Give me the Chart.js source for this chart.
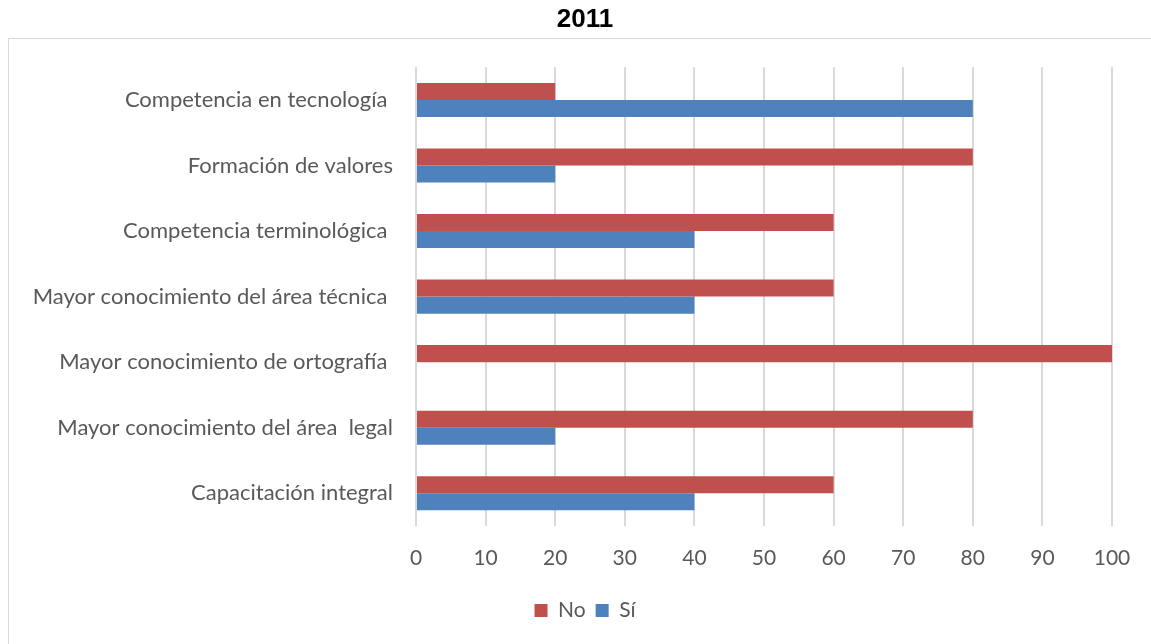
<!DOCTYPE html>
<html>
<head>
<meta charset="utf-8">
<script src="https://cdn.jsdelivr.net/npm/chart.js@4/dist/chart.umd.min.js"></script>
<style>
  body { margin: 0; background: #fff; }
  #wrap { position: relative; width: 1151px; height: 644px; }
  #frame { position: absolute; left: 8px; top: 38px; width: 1160px; height: 620px;
           border: 1px solid #d9d9d9; box-sizing: border-box; pointer-events: none; }
</style>
</head>
<body>
<div id="wrap">
  <canvas id="chart" width="1151" height="644"></canvas>
  <div id="frame"></div>
</div>
<script>
// categorías (de arriba hacia abajo)
var categorias = [
    'Competencia en tecnología ',
    'Formación de valores',
    'Competencia terminológica ',
    'Mayor conocimiento del área técnica ',
    'Mayor conocimiento de ortografía ',
    'Mayor conocimiento del área  legal',
    'Capacitación integral'
];
var valoresNo = [20, 80, 60, 60, 100, 80, 60];
var valoresSi = [80, 20, 40, 40, 0, 20, 40];
var ticksX = [0, 10, 20, 30, 40, 50, 60, 70, 80, 90, 100];

var fuente = 'Lato, "Open Sans", sans-serif';
var gris = '#595959';

// centra título y leyenda sobre el marco completo (no solo el área del gráfico)
var centrarBloques = {
    id: 'centrarBloques',
    afterLayout: function (chart) {
        var dx = 585 - (chart.legend.left + chart.legend.right) / 2;
        [chart.legend, chart.titleBlock].forEach(function (b) {
            if (b) { b.left += dx; b.right += dx; }
        });
    }
};

var ctx = document.getElementById('chart').getContext('2d');
const chart = new Chart(ctx, {
    type: 'bar',
    data: {
        labels: categorias,
        datasets: [{
            label: 'No',
            data: valoresNo,
            backgroundColor: '#C0504D',
            categoryPercentage: 0.52,
            barPercentage: 1
        }, {
            label: 'Sí',
            data: valoresSi,
            backgroundColor: '#4F81BD',
            categoryPercentage: 0.52,
            barPercentage: 1
        }]
    },
    options: {
        indexAxis: 'y',
        responsive: false,
        animation: false,
        layout: { padding: { left: 0, right: 39, top: 0, bottom: 13 } },
        scales: {
            x: {
                min: 0,
                max: 100,
                afterBuildTicks: function (s) { s.ticks = ticksX.map(function (v) { return { value: v }; }); },
                grid: { color: '#d9d9d9', lineWidth: 2, drawTicks: false },
                border: { display: false },
                ticks: { color: gris, font: { family: fuente, size: 21 }, padding: 20 },
                afterFit: function (s) { s.height = 64; }
            },
            y: {
                grid: { display: false, drawTicks: false },
                border: { display: false },
                ticks: { color: gris, font: { family: fuente, size: 22 }, padding: 23 },
                afterFit: function (s) { s.width = 416; }
            }
        },
        plugins: {
            title: {
                display: true,
                text: '2011',
                color: '#000',
                font: { family: 'Arial, "Liberation Sans", sans-serif', size: 26, weight: 'bold' },
                padding: { top: 4, bottom: 32 }
            },
            legend: {
                position: 'bottom',
                labels: {
                    color: gris,
                    font: { family: fuente, size: 21 },
                    boxWidth: 13,
                    boxHeight: 13,
                    padding: 10
                }
            },
            tooltip: { enabled: false }
        }
    },
    plugins: [centrarBloques]
});
</script>
</body>
</html>
